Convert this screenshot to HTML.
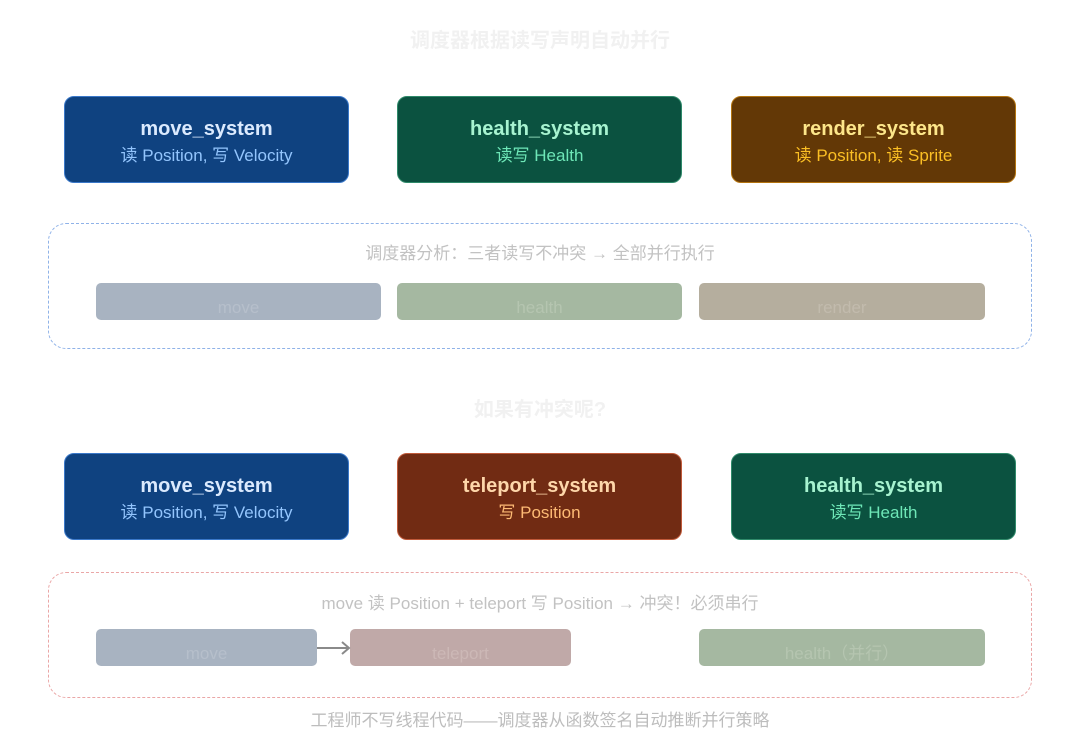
<!DOCTYPE html>
<html><head><meta charset="utf-8"><style>
body{margin:0;width:1080px;height:744px;background:#fff;position:relative;overflow:hidden;font-family:"Liberation Sans","Noto Sans CJK SC",sans-serif}
.a{position:absolute}
.t{position:absolute;left:0;width:1080px;text-align:center}
.box{position:absolute;width:285px;height:87px;border-radius:10px;box-sizing:border-box;border:1px solid;text-align:center}
.box b{display:block;font-size:20px;margin-top:20px;line-height:24px}
.box span{display:block;font-size:17px;margin-top:4px;line-height:22px}
.dash{position:absolute;left:48px;width:984px;height:126px;border-radius:18px;box-sizing:border-box;border:1.3px dashed}
.bar{position:absolute;height:37px;border-radius:5px;text-align:center;font-size:17px;line-height:50px;overflow:hidden}
</style></head><body>
<div class="t" style="top:24px;font-size:20px;font-weight:bold;color:#f1f1f1">调度器根据读写声明自动并行</div>

<div class="box" style="left:64px;top:96px;background:#0f4280;border-color:#3a78c9"><b style="color:#dbeafe">move_system</b><span style="color:#93c5fd">读 Position, 写 Velocity</span></div>
<div class="box" style="left:397px;top:96px;background:#0b5240;border-color:#2f8a6a"><b style="color:#a7f3d0">health_system</b><span style="color:#6ee7b7">读写 Health</span></div>
<div class="box" style="left:731px;top:96px;background:#633806;border-color:#b4740f"><b style="color:#fde68a">render_system</b><span style="color:#fbbf24">读 Position, 读 Sprite</span></div>

<div class="dash" style="top:223px;border-color:#8fb2e8"></div>
<div class="t" style="top:239px;font-size:17px;color:#c2c2c2">调度器分析：三者读写不冲突 → 全部并行执行</div>
<div class="bar" style="left:96px;top:283px;width:285px;background:#a8b3c1;color:#b6bfcb">move</div>
<div class="bar" style="left:397px;top:283px;width:285px;background:#a5b8a1;color:#b5c5b0">health</div>
<div class="bar" style="left:699px;top:283px;width:286px;background:#b5ae9e;color:#c2bbad">render</div>

<div class="t" style="top:393px;font-size:20px;font-weight:bold;color:#f1f1f1">如果有冲突呢?</div>

<div class="box" style="left:64px;top:453px;background:#0f4280;border-color:#3a78c9"><b style="color:#dbeafe">move_system</b><span style="color:#93c5fd">读 Position, 写 Velocity</span></div>
<div class="box" style="left:397px;top:453px;background:#712b13;border-color:#c05a3a"><b style="color:#fed7aa">teleport_system</b><span style="color:#fdba74">写 Position</span></div>
<div class="box" style="left:731px;top:453px;background:#0b5240;border-color:#2f8a6a"><b style="color:#a7f3d0">health_system</b><span style="color:#6ee7b7">读写 Health</span></div>

<div class="dash" style="top:572px;border-color:#eaa6a6"></div>
<div class="t" style="top:589px;font-size:17px;color:#c2c2c2">move 读 Position + teleport 写 Position → 冲突！必须串行</div>
<div class="bar" style="left:96px;top:629px;width:221px;background:#a8b3c1;color:#b6bfcb">move</div>
<div class="bar" style="left:350px;top:629px;width:221px;background:#c0a9a8;color:#ccb8b6">teleport</div>
<div class="bar" style="left:699px;top:629px;width:286px;background:#a5b8a1;color:#b5c5b0">health（并行）</div>
<svg class="a" style="left:315px;top:638px" width="40" height="20"><line x1="2" y1="10" x2="34" y2="10" stroke="#8a8a8a" stroke-width="2"/><polyline points="27,4 34,10 27,16" fill="none" stroke="#8a8a8a" stroke-width="2"/></svg>

<div class="t" style="top:706px;font-size:17px;color:#bdbdbd">工程师不写线程代码——调度器从函数签名自动推断并行策略</div>
</body></html>
